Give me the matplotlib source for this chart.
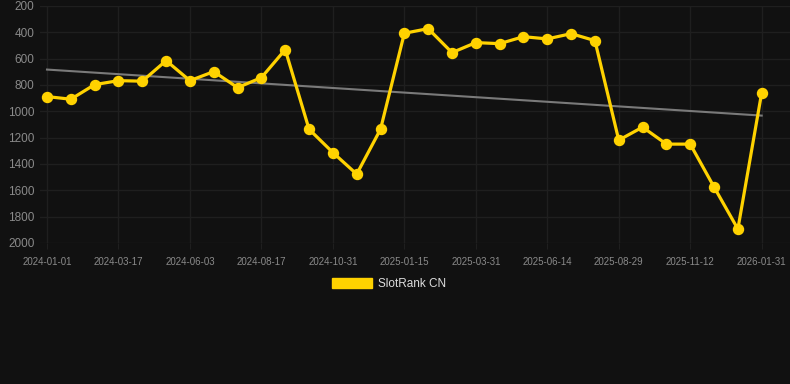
import matplotlib

matplotlib.use("Agg")
import matplotlib.pyplot as plt
import numpy as np
from matplotlib.patches import Patch

# ---------------------------------------------------------------------------
# Data
# ---------------------------------------------------------------------------
tick_labels = [
    "2024-01-01", "2024-03-17", "2024-06-03", "2024-08-17", "2024-10-31",
    "2025-01-15", "2025-03-31", "2025-06-14", "2025-08-29", "2025-11-12",
    "2026-01-31",
]
rank_cn = [
    888, 908, 797, 767, 771, 615, 767, 698, 820, 744,
    531, 1136, 1313, 1477, 1136, 407, 372, 554, 478, 486,
    433, 450, 410, 463, 1219, 1120, 1249, 1249, 1575, 1894,
    858,
]
series_name = "SlotRank CN"

BG = "#111111"
GRID = "#1f1f1f"
GOLD = "#FFD200"
TXT = "#8a8a8a"

plt.rcParams["font.family"] = ["Liberation Sans", "DejaVu Sans"]

W, H = 790, 384
fig = plt.figure(figsize=(W / 100, H / 100), dpi=100, facecolor=BG)
ax = fig.add_axes([40 / W, 1 - 243 / H, 750 / W, 237 / H], facecolor=BG)

x = np.arange(len(rank_cn))
y = np.array(rank_cn, dtype=float)

# linear trend through the series
k, b = np.polyfit(x, y, 1)
ax.plot(x, k * x + b, color="#7a7a7a", lw=1.5, zorder=2)

ax.plot(x, y, color=GOLD, lw=2.3, marker="o", ms=7.2, zorder=3,
        solid_joinstyle="round")

px = 23.82  # pixels per point step
ax.set_xlim(-7 / px, len(rank_cn) - 1 + 28.3 / px)
ax.set_ylim(2000, 200)

tick_pos = x[::3]
ax.set_xticks(tick_pos)
ax.set_xticklabels(tick_labels)
ax.set_yticks(range(200, 2001, 200))

ax.grid(True, color=GRID, lw=1.0)
ax.set_axisbelow(True)
for s in ax.spines.values():
    s.set_visible(False)
ax.tick_params(axis="x", colors=GRID, labelcolor=TXT, labelsize=7,
               length=4, pad=6)
ax.tick_params(axis="y", length=0, labelcolor=TXT, labelsize=8.5, pad=4)

fig.legend(handles=[Patch(facecolor=GOLD, edgecolor=GOLD)],
           labels=[series_name], loc="center",
           bbox_to_anchor=(389 / W, 1 - 284 / H), frameon=False,
           handlelength=3.4, handleheight=1.0, handletextpad=0.55,
           fontsize=8.5, labelcolor="#dddddd")

fig.savefig("out.png", dpi=100, facecolor=BG)
